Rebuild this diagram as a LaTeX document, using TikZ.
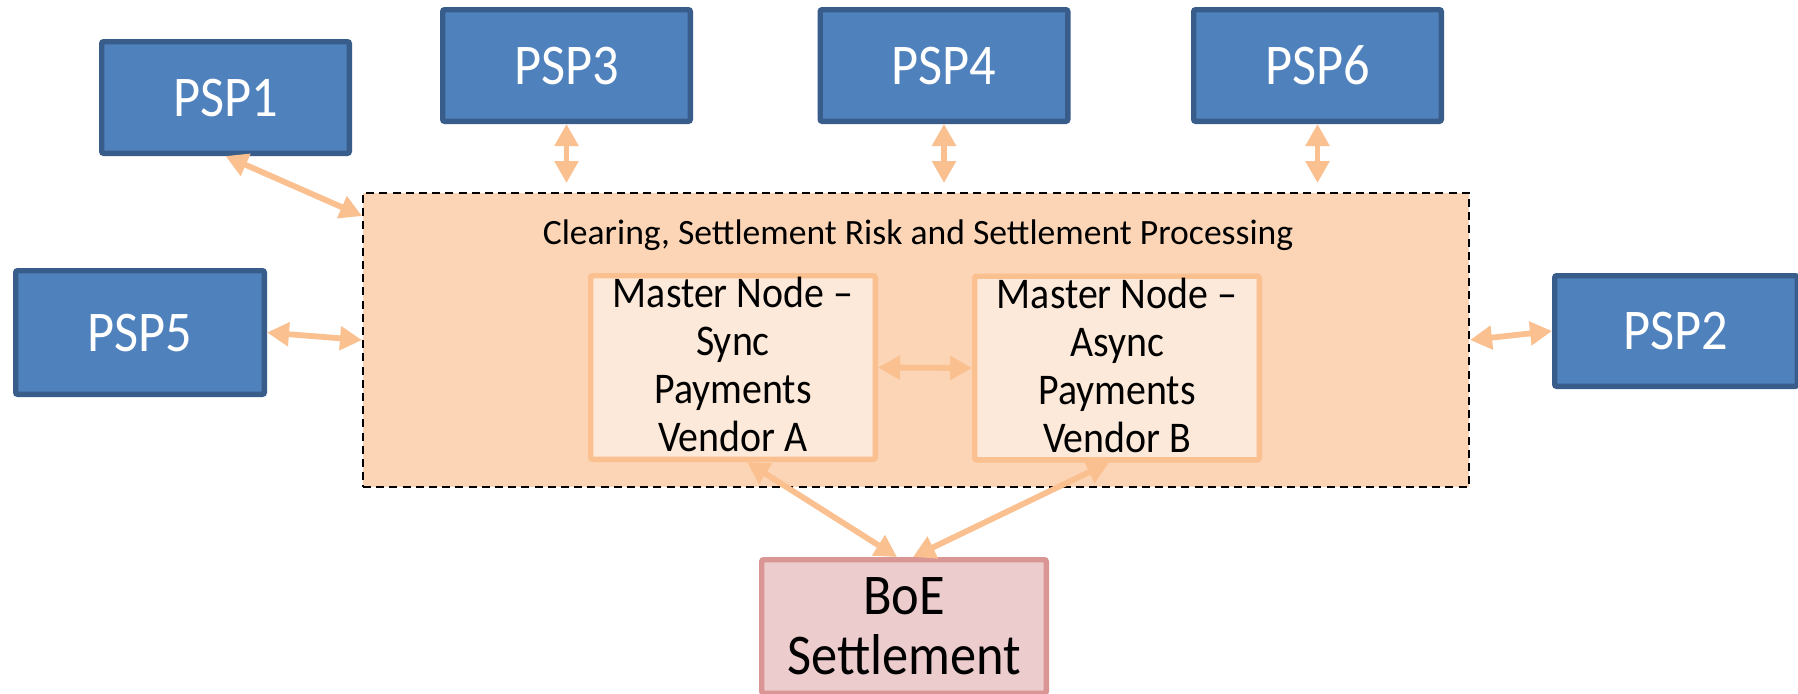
\documentclass[tikz,border=0pt]{standalone}
\usepackage{fontspec}
\setmainfont{Carlito}[FakeStretch=0.91]
\newfontfamily\titlefont{Carlito}
\usetikzlibrary{arrows.meta,calc}

\definecolor{pspfill}{RGB}{79,129,189}
\definecolor{pspline}{RGB}{56,93,138}
\definecolor{zonefill}{RGB}{251,213,181}
\definecolor{masterfill}{RGB}{253,233,217}
\definecolor{peach}{RGB}{250,192,144}
\definecolor{boefill}{RGB}{236,204,204}
\definecolor{boeline}{RGB}{217,150,148}

\tikzset{
  psp/.style={draw=pspline, fill=pspfill, line width=2.7pt, rounded corners=1pt,
    text=white, font=\fontsize{28.8pt}{30pt}\selectfont,
    minimum width=123.8pt, minimum height=55.8pt, inner sep=0pt},
  zone/.style={draw=black, fill=zonefill, line width=1pt, dash pattern=on 4pt off 2.6pt,
    minimum width=553pt, minimum height=147pt, inner sep=0pt},
  master/.style={draw=peach, fill=masterfill, line width=2.7pt, rounded corners=1pt,
    align=center, font=\fontsize{21.9pt}{24pt}\selectfont, text depth=3pt,
    minimum width=142.3pt, minimum height=91.8pt, inner sep=0pt},
  boebox/.style={draw=boeline, fill=boefill, line width=2.7pt, rounded corners=1pt,
    align=center, font=\fontsize{28.8pt}{30pt}\selectfont,
    minimum width=142.3pt, minimum height=66.8pt, inner sep=0pt},
  zonetitle/.style={font=\titlefont\fontsize{17.8pt}{20pt}\selectfont, inner sep=0pt, anchor=base},
  link/.style={draw=peach, line width=2.9pt,
    {Triangle[length=11pt,width=11.5pt]}-{Triangle[length=11pt,width=11.5pt]}}
}

\begin{document}
\begin{tikzpicture}[x=0.5pt, y=-0.5pt]
  \useasboundingbox (0,0) rectangle (1798,693);
  \fill[white] (0,0) rectangle (1798,693);
  \clip (0,0) rectangle (1798,693);

  % central clearing zone with the two master nodes
  \node[zone] (zone) at (916,340) {};
  \node[zonetitle] (title) at (918,244) {Clearing, Settlement Risk and Settlement Processing};
  \node[master] (sync) at (733,367.5) {Master Node --\\Sync\\Payments\\Vendor A};
  \node[master] (async) at (1117,368) {Master Node --\\Async\\Payments\\Vendor B};

  % payment service providers
  \node[psp] (psp1) at (225.5,97.5) {PSP1};
  \node[psp] (psp3) at (566.5,65.5) {PSP3};
  \node[psp] (psp4) at (944,65.5) {PSP4};
  \node[psp] (psp6) at (1317.5,65.5) {PSP6};
  \node[psp, minimum width=124.3pt, minimum height=61.8pt] (psp5) at (140,332.5) {PSP5};
  \node[psp, minimum width=121.3pt, minimum height=55.3pt] (psp2) at (1676,331) {PSP2};

  % settlement at the central bank
  \node[boebox] (boe) at (904,626.5) {BoE\\Settlement};

  % arrow ends just outside the zone
  \coordinate (z1) at ($(zone.north west)+(0,24)$);
  \coordinate (z3) at ($(psp3.south |- zone.north)+(0,-9)$);
  \coordinate (z4) at ($(psp4.south |- zone.north)+(0,-9)$);
  \coordinate (z6) at ($(psp6.south |- zone.north)+(0,-9)$);

  % two-way links
  \draw[link] (psp1.south) -- (z1);
  \draw[link] (psp3.south) -- (z3);
  \draw[link] (psp4.south) -- (z4);
  \draw[link] (psp6.south) -- (z6);
  \draw[link] (psp5.east) -- (zone.west);
  \draw[link] (zone.east) -- (psp2.west);
  \draw[link] (sync.east) -- (async.west);
  \draw[link] ($(sync.south)+(14,0)$) -- ($(boe.north)+(-7,0)$);
  \draw[link] ($(async.south)+(-8,0)$) -- ($(boe.north)+(9,0)$);
\end{tikzpicture}
\end{document}
